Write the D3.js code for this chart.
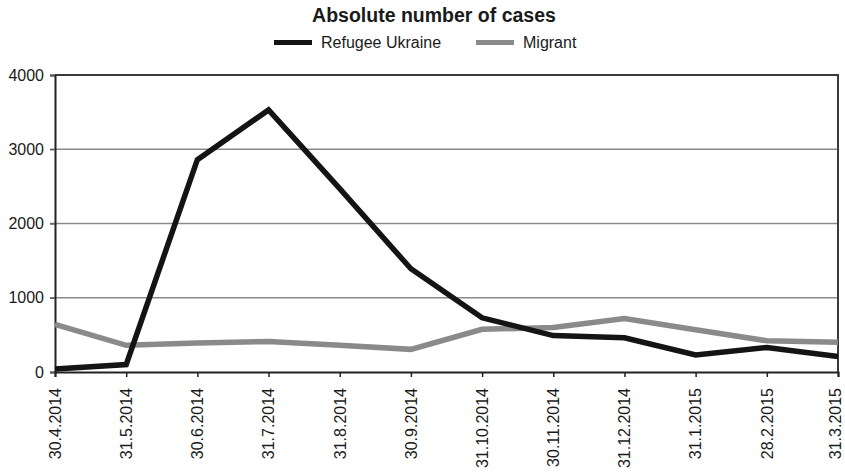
<!DOCTYPE html>
<html>
<head>
<meta charset="utf-8">
<script src="https://cdn.jsdelivr.net/npm/d3@7"></script>
<style>
  html, body { margin: 0; padding: 0; background: #fff; }
  svg { display: block; font-family: "Liberation Sans", Arial, sans-serif; }
</style>
</head>
<body>
<svg id="chart" width="845" height="475"></svg>
<script>
// Month-end reporting dates
const dates = ["30.4.2014", "31.5.2014", "30.6.2014", "31.7.2014", "31.8.2014", "30.9.2014",
               "31.10.2014", "30.11.2014", "31.12.2014", "31.1.2015", "28.2.2015", "31.3.2015"];

// Absolute number of cases per month
const refugeeUkraine = [40, 100, 2860, 3530, 2470, 1390, 730, 490, 460, 230, 330, 210];
const migrant        = [640, 360, 390, 410, 360, 305, 575, 600, 720, 570, 420, 400];

const yTicks = [0, 1000, 2000, 3000, 4000];

const seriesNames = ["Refugee Ukraine", "Migrant"];
const seriesColors = ["#141414", "#8a8a8a"];

const svg = d3.select("#chart");
const plotLeft = 55, plotRight = 838, plotTop = 75, plotBottom = 372;

const x = d3.scalePoint().domain(dates).range([plotLeft, plotRight]);
const y = d3.scaleLinear().domain([0, 4000]).range([plotBottom, plotTop]);

// Title
svg.append("text")
  .attr("x", 434).attr("y", 22)
  .attr("text-anchor", "middle")
  .style("font-weight", "bold").style("font-size", "19.5px").style("fill", "#1a1a1a")
  .text("Absolute number of cases");

// Legend
const legendItems = [
  { name: seriesNames[0], color: seriesColors[0], x: 274 },
  { name: seriesNames[1], color: seriesColors[1], x: 476 }
];
legendItems.forEach(d => {
  svg.append("line")
    .attr("x1", d.x).attr("x2", d.x + 38)
    .attr("y1", 42.5).attr("y2", 42.5)
    .attr("stroke", d.color).attr("stroke-width", 5);
  svg.append("text")
    .attr("x", d.x + 47).attr("y", 48)
    .style("font-size", "16px").style("fill", "#1a1a1a")
    .text(d.name);
});

// Horizontal gridlines
svg.append("g").selectAll("line")
  .data(yTicks.filter(v => v > 0 && v < 4000))
  .join("line")
  .attr("x1", plotLeft - 5).attr("x2", plotRight)
  .attr("y1", d => y(d)).attr("y2", d => y(d))
  .attr("stroke", "#8a8a8a").attr("stroke-width", 1.3);

// Plot frame: top and right edges
svg.append("path")
  .attr("d", `M${plotLeft},${y(4000)}H${plotRight}V${plotBottom}`)
  .attr("fill", "none").attr("stroke", "#3a3a3a").attr("stroke-width", 2);

// Y axis
const yAxis = svg.append("g")
  .attr("transform", `translate(${plotLeft},0)`)
  .call(d3.axisLeft(y).tickValues(yTicks).tickSize(5).tickPadding(6).tickFormat(d3.format("d")));
yAxis.select(".domain").attr("stroke", "#222").attr("stroke-width", 2);
yAxis.selectAll(".tick line").attr("stroke", "#555").attr("stroke-width", 1.3);
yAxis.selectAll("text").style("font-size", "16px").style("fill", "#1a1a1a")
  .style("font-family", "'Liberation Sans', Arial, sans-serif");

// X axis with rotated date labels
const xAxis = svg.append("g")
  .attr("transform", `translate(0,${plotBottom})`)
  .call(d3.axisBottom(x).tickSize(5).tickPadding(12));
xAxis.select(".domain").attr("stroke", "#222").attr("stroke-width", 2);
xAxis.selectAll(".tick line").attr("stroke", "#222").attr("stroke-width", 1.5);
xAxis.selectAll("text")
  .style("font-size", "16px").style("fill", "#1a1a1a")
  .style("font-family", "'Liberation Sans', Arial, sans-serif")
  .attr("text-anchor", "end")
  .attr("transform", "rotate(-90)")
  .attr("x", -16)
  // keep the last label inside the right edge of the canvas
  .attr("y", (d, i) => i === dates.length - 1 ? -2.5 : 0)
  .attr("dy", "0.33em");

// Series lines
const line = d3.line().x((d, i) => x(dates[i])).y(d => y(d));
[migrant, refugeeUkraine].forEach((values, k) => {
  const color = k === 0 ? seriesColors[1] : seriesColors[0];
  svg.append("path")
    .datum(values)
    .attr("d", line)
    .attr("fill", "none")
    .attr("stroke", color)
    .attr("stroke-width", 5.5)
    .attr("stroke-linejoin", "miter")
    .attr("stroke-linecap", "butt");
});
</script>
</body>
</html>
